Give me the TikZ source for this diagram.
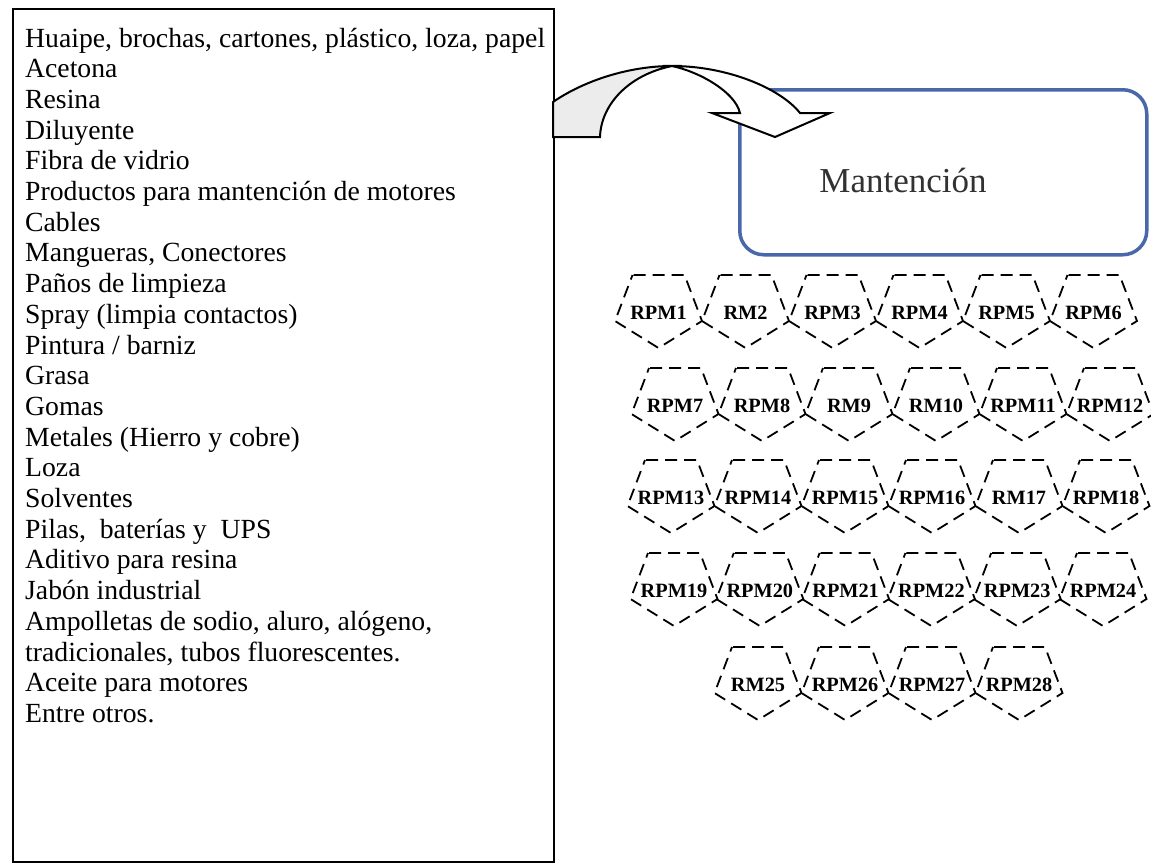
\documentclass[tikz,border=0pt]{standalone}
\usepackage{fontspec}
\setmainfont{Liberation Serif}
\definecolor{procblue}{RGB}{72,104,170}
\definecolor{tailgray}{RGB}{236,236,236}
\definecolor{labelgray}{RGB}{50,50,50}
% one dashed pentagon (pointing down) with its bold label
% #1 name, #2 centre x, #3 top y, #4 label
\newcommand{\pentagono}[4]{%
  \draw[pentline] (#2-26,#3) -- (#2+26,#3) -- (#2+43.5,#3+46) -- (#2,#3+73)
        -- (#2-43.5,#3+46) -- cycle;
  \node[penttext] (#1) at (#2,#3+44) {#4};
}
\begin{document}
\begin{tikzpicture}[x=1pt,y=-1pt,
  listbox/.style={draw=black, line width=1.8pt, inner sep=0pt},
  itemtext/.style={anchor=base west, inner sep=0pt, text=black,
                   font=\fontsize{27.7}{30}\selectfont},
  procbox/.style={draw=procblue, line width=3.5pt, rounded corners=24pt, inner sep=0pt},
  proclabel/.style={font=\fontsize{35}{40}\selectfont, text=labelgray, inner sep=0pt},
  pentline/.style={draw=black, line width=1.8pt, dash pattern=on 12pt off 7pt, dash phase=18pt},
  penttext/.style={font=\bfseries\fontsize{20.3}{22}\selectfont, inner sep=0pt, anchor=base},
  arrowline/.style={draw=black, line width=2pt, line join=miter}
]
\useasboundingbox (0,0) rectangle (1151,863);
\fill[white] (0,0) rectangle (1151,863);

% list of materials
\node[listbox, minimum width=541pt, minimum height=853pt, anchor=north west] (lista) at (12,8) {};
\foreach \t [count=\i] in {%
  {Huaipe, brochas, cartones, plástico, loza, papel},
  Acetona, Resina, Diluyente, Fibra de vidrio,
  Productos para mantención de motores, Cables,
  {Mangueras, Conectores}, Paños de limpieza,
  Spray (limpia contactos), Pintura / barniz, Grasa, Gomas,
  Metales (Hierro y cobre), Loza, Solventes,
  {Pilas,~ baterías y~ UPS}, Aditivo para resina, Jabón industrial,
  {Ampolletas de sodio, aluro, alógeno,},
  {tradicionales, tubos fluorescentes.},
  Aceite para motores, Entre otros.}
  \node[itemtext] (item\i) at (25,{47+(\i-1)*30.7}) {\t};

% process box
\node[procbox, minimum width=407pt, minimum height=165pt, anchor=north west] (mant) at (738,88) {};
\node[proclabel] (mantlbl) at (903,180) {Mantención};

% curved block arrow from the list to the process
\filldraw[arrowline, fill=tailgray]
  (553,102) .. controls (585,80) and (630,66) .. (672,66)
  .. controls (628,75) and (601,105) .. (600,137) -- (553,137) -- cycle;
\filldraw[arrowline, fill=white]
  (672,66) .. controls (727,66) and (780,88) .. (800,113) -- (830,113)
  -- (775,137) -- (712,113) -- (740,113)
  .. controls (735,92) and (700,72) .. (672,66) -- cycle;

% residue pentagons
\foreach \lab [count=\k from 0] in {RPM1,RM2,RPM3,RPM4,RPM5,RPM6}{
  \pgfmathsetmacro\cx{658.5+87*\k}
  \pentagono{p\lab}{\cx}{275}{\lab}}
\foreach \lab [count=\k from 0] in {RPM7,RPM8,RM9,RM10,RPM11,RPM12}{
  \pgfmathsetmacro\cx{675+87*\k}
  \pentagono{p\lab}{\cx}{368}{\lab}}
\foreach \lab [count=\k from 0] in {RPM13,RPM14,RPM15,RPM16,RM17,RPM18}{
  \pgfmathsetmacro\cx{671+87*\k}
  \pentagono{p\lab}{\cx}{460}{\lab}}
\foreach \lab [count=\k from 0] in {RPM19,RPM20,RPM21,RPM22,RPM23,RPM24}{
  \pgfmathsetmacro\cx{674+85.8*\k}
  \pentagono{p\lab}{\cx}{553}{\lab}}
\foreach \lab [count=\k from 0] in {RM25,RPM26,RPM27,RPM28}{
  \pgfmathsetmacro\cx{758+87*\k}
  \pentagono{p\lab}{\cx}{647}{\lab}}
\end{tikzpicture}
\end{document}
